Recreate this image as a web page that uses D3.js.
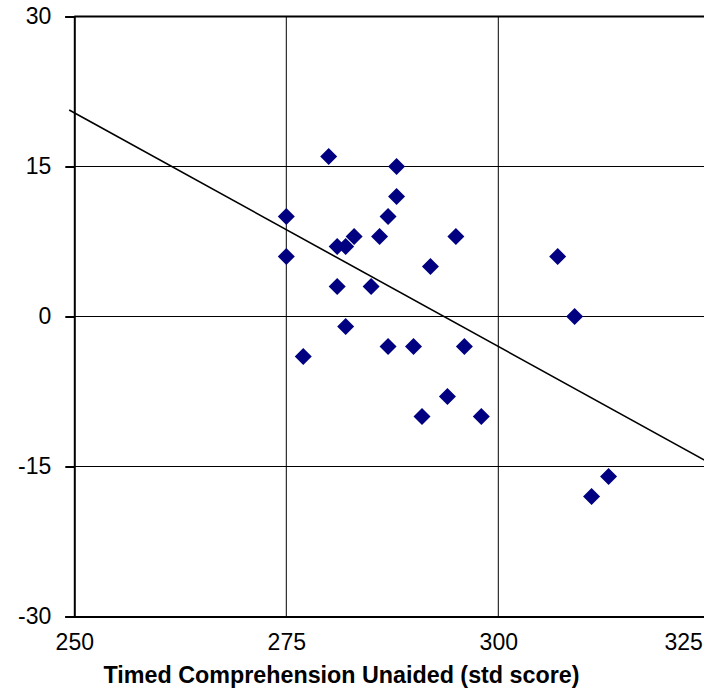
<!DOCTYPE html>
<html>
<head>
<meta charset="utf-8">
<script src="https://cdn.jsdelivr.net/npm/d3@7"></script>
<style>
  body { margin: 0; background: #fff; }
  svg { display: block; font-family: "Liberation Sans", Arial, sans-serif; }
</style>
</head>
<body>
<svg width="704" height="690"></svg>
<script>
// scores
var scoreX = [275, 275, 277, 280, 281, 282, 283, 281, 285, 282, 286, 287, 288, 288,
              287, 290, 292, 295, 296, 294, 291, 298, 307, 309, 313, 311];
var scoreY = [10, 6, -4, 16, 7, 7, 8, 3, 3, -1, 8, 10, 12, 15,
              -3, -3, 5, 8, -3, -8, -10, -10, 6, 0, -16, -18];
// trend line ends
var trendX = [249.4, 326];
var trendY = [20.65, -15.15];
var xTicks = [250, 275, 300, 325];
var yTicks = [-30, -15, 0, 15, 30];
var xTitle = "Timed Comprehension Unaided (std score)";

var svg = d3.select("svg");

var x = d3.scaleLinear().domain([250, 325]).range([74.3, 710.3]);
var y = d3.scaleLinear().domain([-30, 30]).range([616.5, 16.5]);

var data = scoreX.map(function (d, i) { return { x: d, y: scoreY[i] }; });

// grid lines
svg.append("g")
    .selectAll("line")
    .data(yTicks.filter(function (d) { return d !== -30; }))
    .enter().append("line")
    .attr("x1", x(250)).attr("x2", 704)
    .attr("y1", function (d) { return y(d); })
    .attr("y2", function (d) { return y(d); })
    .attr("stroke", "#000")
    .attr("stroke-width", function (d) { return d === 30 ? 2 : 1; });

svg.append("g")
    .selectAll("line")
    .data(xTicks.filter(function (d) { return d !== 250; }))
    .enter().append("line")
    .attr("x1", function (d) { return x(d); })
    .attr("x2", function (d) { return x(d); })
    .attr("y1", y(30)).attr("y2", y(-30))
    .attr("stroke", "#000")
    .attr("stroke-width", 1);

// plain hyphen for negatives, like the original
var fmt = function (d) { return String(d); };

// y axis
var yAxis = svg.append("g")
    .attr("transform", "translate(" + x(250) + ",0)")
    .call(d3.axisLeft(y).tickValues(yTicks).tickFormat(fmt).tickSize(9).tickPadding(14));
yAxis.select(".domain").attr("stroke-width", 2);
yAxis.selectAll("line").attr("stroke-width", 2);
yAxis.selectAll("text").attr("font-size", 23).attr("fill", "#000")
    .attr("font-family", "Liberation Sans, Arial, sans-serif");

// x axis
var xAxis = svg.append("g")
    .attr("transform", "translate(0," + y(-30) + ")")
    .call(d3.axisBottom(x).tickValues(xTicks).tickFormat(fmt).tickSize(0).tickPadding(17));
xAxis.select(".domain").attr("stroke-width", 2);
xAxis.selectAll("text").attr("font-size", 23).attr("fill", "#000")
    .attr("font-family", "Liberation Sans, Arial, sans-serif");
// last label is pushed inside the picture
xAxis.selectAll("text").filter(function (d) { return d === 325; })
    .attr("text-anchor", "end").attr("dx", -8);

// trend line
svg.append("line")
    .attr("x1", x(trendX[0])).attr("y1", y(trendY[0]))
    .attr("x2", x(trendX[1])).attr("y2", y(trendY[1]))
    .attr("stroke", "#000")
    .attr("stroke-width", 1.6);

// points
svg.append("g")
    .selectAll("path")
    .data(data)
    .enter().append("path")
    .attr("d", "M0,-8.5L8.5,0L0,8.5L-8.5,0Z")
    .attr("transform", function (d) { return "translate(" + x(d.x) + "," + y(d.y) + ")"; })
    .attr("fill", "#000080");

// axis title
svg.append("text")
    .attr("x", 341.5)
    .attr("y", 683)
    .attr("text-anchor", "middle")
    .attr("font-size", 23.3)
    .attr("font-weight", "bold")
    .attr("fill", "#000")
    .text(xTitle);
</script>
</body>
</html>
